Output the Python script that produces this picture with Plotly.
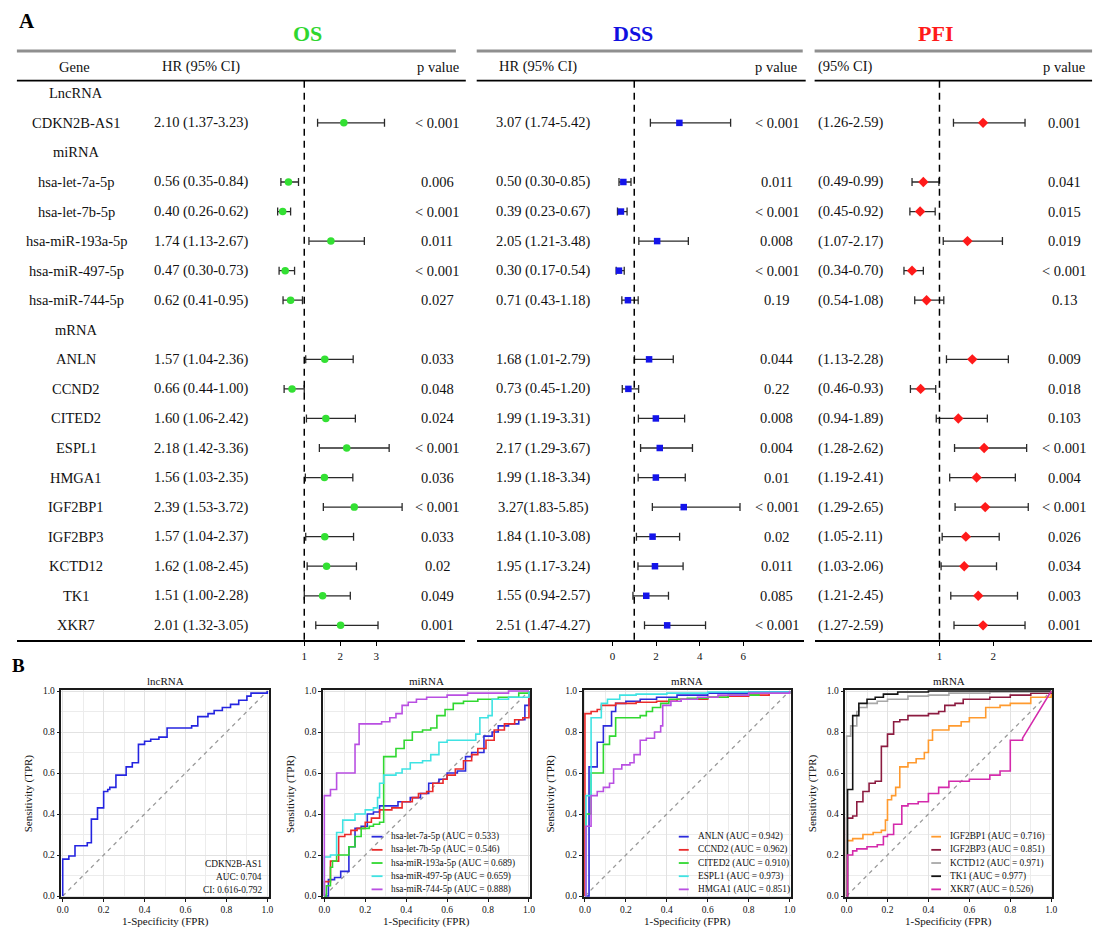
import plotly.graph_objects as go

W, H = 1106, 934
SERIF = "Liberation Serif, Times New Roman, serif"
INK = "#111111"

# ---------------- Forest plot data (panel A) ----------------
row_labels = ["LncRNA", "CDKN2B-AS1", "miRNA", "hsa-let-7a-5p", "hsa-let-7b-5p",
              "hsa-miR-193a-5p", "hsa-miR-497-5p", "hsa-miR-744-5p", "mRNA",
              "ANLN", "CCND2", "CITED2", "ESPL1", "HMGA1", "IGF2BP1", "IGF2BP3",
              "KCTD12", "TK1", "XKR7"]
genes = ["CDKN2B-AS1", "hsa-let-7a-5p", "hsa-let-7b-5p", "hsa-miR-193a-5p",
         "hsa-miR-497-5p", "hsa-miR-744-5p", "ANLN", "CCND2", "CITED2", "ESPL1",
         "HMGA1", "IGF2BP1", "IGF2BP3", "KCTD12", "TK1", "XKR7"]

os_hr = [2.10, 0.56, 0.40, 1.74, 0.47, 0.62, 1.57, 0.66, 1.60, 2.18, 1.56, 2.39, 1.57, 1.62, 1.51, 2.01]
os_lo = [1.37, 0.35, 0.26, 1.13, 0.30, 0.41, 1.04, 0.44, 1.06, 1.42, 1.03, 1.53, 1.04, 1.08, 1.00, 1.32]
os_hi = [3.23, 0.84, 0.62, 2.67, 0.73, 0.95, 2.36, 1.00, 2.42, 3.36, 2.35, 3.72, 2.37, 2.45, 2.28, 3.05]
os_p = ["< 0.001", "0.006", "< 0.001", "0.011", "< 0.001", "0.027", "0.033", "0.048",
        "0.024", "< 0.001", "0.036", "< 0.001", "0.033", "0.02", "0.049", "0.001"]

dss_hr = [3.07, 0.50, 0.39, 2.05, 0.30, 0.71, 1.68, 0.73, 1.99, 2.17, 1.99, 3.27, 1.84, 1.95, 1.55, 2.51]
dss_lo = [1.74, 0.30, 0.23, 1.21, 0.17, 0.43, 1.01, 0.45, 1.19, 1.29, 1.18, 1.83, 1.10, 1.17, 0.94, 1.47]
dss_hi = [5.42, 0.85, 0.67, 3.48, 0.54, 1.18, 2.79, 1.20, 3.31, 3.67, 3.34, 5.85, 3.08, 3.24, 2.57, 4.27]
dss_p = ["< 0.001", "0.011", "< 0.001", "0.008", "< 0.001", "0.19", "0.044", "0.22",
         "0.008", "0.004", "0.01", "< 0.001", "0.02", "0.011", "0.085", "< 0.001"]
dss_nospace = ["IGF2BP1"]

pfi_hr = [1.81, 0.70, 0.64, 1.52, 0.49, 0.76, 1.61, 0.65, 1.35, 1.83, 1.69, 1.85, 1.49, 1.46, 1.72, 1.81]
pfi_lo = [1.26, 0.49, 0.45, 1.07, 0.34, 0.54, 1.13, 0.46, 0.94, 1.28, 1.19, 1.29, 1.05, 1.03, 1.21, 1.27]
pfi_hi = [2.59, 0.99, 0.92, 2.17, 0.70, 1.08, 2.28, 0.93, 1.89, 2.62, 2.41, 2.65, 2.11, 2.06, 2.45, 2.59]
pfi_p = ["0.001", "0.041", "0.015", "0.019", "< 0.001", "0.13", "0.009", "0.018",
         "0.103", "< 0.001", "0.004", "< 0.001", "0.026", "0.034", "0.003", "0.001"]

os_ticks = [1, 2, 3]
dss_ticks = [0, 2, 4, 6]
pfi_ticks = [1, 2]

# ---------------- ROC data (panel B) ----------------
lnc_name = "CDKN2B-AS1"
lnc_auc = 0.704
lnc_ci = (0.616, 0.792)
fpr_cdkn = [0, 0, 0.03, 0.06, 0.12, 0.14, 0.17, 0.20, 0.22, 0.23, 0.26, 0.31, 0.34, 0.37, 0.40, 0.43,
            0.47, 0.51, 0.63, 0.66, 0.71, 0.74, 0.78, 0.82, 0.86, 0.90, 0.92, 1.0]
tpr_cdkn = [0, 0.18, 0.195, 0.245, 0.26, 0.375, 0.43, 0.51, 0.52, 0.53, 0.59, 0.63, 0.65, 0.74, 0.755,
            0.765, 0.775, 0.82, 0.83, 0.875, 0.89, 0.905, 0.92, 0.935, 0.955, 0.975, 0.99, 1.0]

mir_names = ["hsa-let-7a-5p", "hsa-let-7b-5p", "hsa-miR-193a-5p", "hsa-miR-497-5p", "hsa-miR-744-5p"]
mir_auc = [0.533, 0.546, 0.689, 0.659, 0.888]
fpr_let7a = [0, 0.02, 0.05, 0.08, 0.12, 0.15, 0.18, 0.21, 0.24, 0.27, 0.32, 0.36, 0.42, 0.47, 0.51,
             0.56, 0.60, 0.65, 0.69, 0.72, 0.78, 0.82, 0.85, 0.90, 0.95, 0.98, 1.0]
tpr_let7a = [0, 0.08, 0.09, 0.12, 0.24, 0.33, 0.34, 0.40, 0.41, 0.44, 0.44, 0.46, 0.48, 0.50, 0.55,
             0.57, 0.60, 0.61, 0.68, 0.70, 0.78, 0.80, 0.83, 0.84, 0.86, 0.93, 1.0]
fpr_let7b = [0, 0, 0.03, 0.07, 0.10, 0.13, 0.16, 0.20, 0.23, 0.27, 0.33, 0.38, 0.43, 0.46, 0.50, 0.53,
             0.58, 0.60, 0.64, 0.68, 0.72, 0.75, 0.79, 0.83, 0.88, 0.93, 0.97, 1.0, 1.0]
tpr_let7b = [0, 0.07, 0.17, 0.29, 0.30, 0.32, 0.33, 0.36, 0.38, 0.42, 0.43, 0.46, 0.48, 0.50, 0.51, 0.55,
             0.57, 0.59, 0.62, 0.66, 0.69, 0.72, 0.76, 0.81, 0.84, 0.86, 0.87, 0.89, 1.0]
fpr_m193a = [0, 0.01, 0.03, 0.04, 0.06, 0.12, 0.15, 0.18, 0.22, 0.24, 0.27, 0.29, 0.35, 0.39, 0.43,
             0.48, 0.52, 0.55, 0.59, 0.63, 0.68, 0.75, 0.85, 0.95, 1.0]
tpr_m193a = [0, 0.05, 0.14, 0.17, 0.20, 0.24, 0.29, 0.33, 0.34, 0.35, 0.36, 0.68, 0.72, 0.76, 0.80,
             0.81, 0.82, 0.88, 0.91, 0.94, 0.95, 0.96, 0.97, 0.99, 1.0]
fpr_m497 = [0, 0, 0.03, 0.06, 0.09, 0.15, 0.20, 0.24, 0.26, 0.27, 0.29, 0.35, 0.38, 0.42, 0.48, 0.52,
            0.56, 0.60, 0.68, 0.74, 0.76, 0.80, 0.82, 0.90, 1.0, 1.0]
tpr_m497 = [0, 0.19, 0.20, 0.31, 0.37, 0.40, 0.42, 0.43, 0.48, 0.55, 0.59, 0.60, 0.62, 0.65, 0.66, 0.69,
            0.75, 0.76, 0.76, 0.79, 0.87, 0.88, 0.96, 0.97, 0.99, 1.0]
fpr_m744 = [0, 0, 0.03, 0.06, 0.15, 0.17, 0.28, 0.32, 0.35, 0.38, 0.41, 0.45, 0.50, 0.60, 0.70, 0.90, 1.0]
tpr_m744 = [0, 0.49, 0.52, 0.60, 0.74, 0.84, 0.85, 0.87, 0.89, 0.93, 0.945, 0.96, 0.97, 0.98, 0.99, 1.0, 1.0]

mrna1_names = ["ANLN", "CCND2", "CITED2", "ESPL1", "HMGA1"]
mrna1_auc = [0.942, 0.962, 0.910, 0.973, 0.851]
fpr_anln = [0, 0.02, 0.06, 0.09, 0.13, 0.15, 0.20, 0.27, 0.35, 0.45, 0.60, 0.80, 1.0]
tpr_anln = [0, 0.63, 0.75, 0.83, 0.90, 0.94, 0.95, 0.96, 0.97, 0.98, 0.99, 0.995, 1.0]
fpr_ccnd2 = [0, 0, 0.03, 0.06, 0.08, 0.15, 0.25, 0.35, 0.45, 0.60, 0.70, 0.80, 0.90, 1.0]
tpr_ccnd2 = [0, 0.89, 0.90, 0.91, 0.93, 0.94, 0.945, 0.95, 0.96, 0.97, 0.975, 0.98, 0.99, 1.0]
fpr_cited2 = [0, 0.005, 0.03, 0.09, 0.12, 0.15, 0.27, 0.30, 0.33, 0.37, 0.41, 0.50, 0.60, 0.70, 0.85, 1.0]
tpr_cited2 = [0, 0.40, 0.60, 0.74, 0.78, 0.87, 0.88, 0.90, 0.92, 0.94, 0.96, 0.965, 0.97, 0.98, 0.99, 1.0]
fpr_espl1 = [0, 0.005, 0.03, 0.08, 0.11, 0.17, 0.25, 0.40, 0.60, 1.0]
tpr_espl1 = [0, 0.49, 0.87, 0.94, 0.96, 0.98, 0.985, 0.99, 0.995, 1.0]
fpr_hmga1 = [0, 0.005, 0.03, 0.06, 0.09, 0.12, 0.14, 0.18, 0.22, 0.24, 0.27, 0.30, 0.34, 0.37, 0.38,
             0.42, 0.47, 0.55, 0.65, 0.80, 1.0]
tpr_hmga1 = [0, 0.34, 0.49, 0.51, 0.53, 0.55, 0.62, 0.64, 0.65, 0.69, 0.76, 0.77, 0.80, 0.83, 0.93,
             0.95, 0.96, 0.97, 0.98, 0.99, 1.0]

mrna2_names = ["IGF2BP1", "IGF2BP3", "KCTD12", "TK1", "XKR7"]
mrna2_auc = [0.716, 0.851, 0.971, 0.977, 0.526]
fpr_igf2bp1 = [0, 0, 0.03, 0.08, 0.13, 0.17, 0.19, 0.20, 0.22, 0.24, 0.26, 0.30, 0.34, 0.38, 0.40,
               0.42, 0.50, 0.56, 0.60, 0.68, 0.75, 0.80, 0.90, 1.0]
tpr_igf2bp1 = [0, 0.27, 0.28, 0.30, 0.31, 0.32, 0.37, 0.47, 0.49, 0.53, 0.63, 0.65, 0.67, 0.70, 0.76,
               0.81, 0.83, 0.85, 0.87, 0.92, 0.93, 0.94, 0.97, 1.0]
fpr_igf2bp3 = [0, 0, 0.03, 0.05, 0.08, 0.11, 0.14, 0.17, 0.20, 0.23, 0.26, 0.30, 0.40, 0.45, 0.48,
               0.53, 0.57, 0.70, 0.80, 0.90, 1.0]
tpr_igf2bp3 = [0, 0.38, 0.39, 0.46, 0.51, 0.55, 0.56, 0.73, 0.79, 0.85, 0.86, 0.88, 0.89, 0.90, 0.93,
               0.94, 0.96, 0.97, 0.98, 0.99, 1.0]
fpr_kctd12 = [0, 0, 0.02, 0.05, 0.06, 0.10, 0.15, 0.20, 0.30, 0.40, 0.50, 0.70, 1.0]
tpr_kctd12 = [0, 0.78, 0.83, 0.90, 0.92, 0.94, 0.95, 0.96, 0.975, 0.98, 0.99, 0.995, 1.0]
fpr_tk1 = [0, 0.005, 0.03, 0.06, 0.10, 0.14, 0.18, 0.25, 0.40, 1.0]
tpr_tk1 = [0, 0.52, 0.88, 0.94, 0.96, 0.97, 0.985, 0.995, 1.0, 1.0]
fpr_xkr7 = [0, 0.005, 0.03, 0.05, 0.10, 0.15, 0.18, 0.20, 0.23, 0.27, 0.30, 0.35, 0.40, 0.45, 0.50,
            0.60, 0.70, 0.75, 0.80, 0.86]
tpr_xkr7 = [0, 0.20, 0.22, 0.23, 0.24, 0.25, 0.29, 0.30, 0.35, 0.44, 0.45, 0.46, 0.50, 0.53, 0.56,
            0.57, 0.59, 0.61, 0.76, 0.77]
xkr7_end = (1.0, 1.0)


def stairs(f, t, tail=None):
    xs, ys = [f[0]], [t[0]]
    for i in range(1, len(f)):
        xs += [f[i], f[i]]
        ys += [t[i - 1], t[i]]
    if tail is not None:
        xs.append(tail[0])
        ys.append(tail[1])
    return xs, ys


fig = go.Figure()

# ---------------- Panel A ----------------
def px_x(p):
    return p / W


def px_y(p):
    return 1 - p / H


row_idx = {lab: i for i, lab in enumerate(row_labels)}
gy = [row_idx[g] for g in genes]

ROW_TOP_PX, ROW_STEP = 91.0, 29.78
TOP_PX, BOT_PX = 78.3, 641.5
y_range = [(BOT_PX - ROW_TOP_PX) / ROW_STEP, (TOP_PX - ROW_TOP_PX) / ROW_STEP]

sections = [
    dict(hr=os_hr, lo=os_lo, hi=os_hi, ax="x", color="#33e033", symbol="circle", size=7.5,
         left=12, right=464, ref_px=302, ref_val=1, ppu=36.3, ticks=os_ticks),
    dict(hr=dss_hr, lo=dss_lo, hi=dss_hi, ax="x2", color="#1414ea", symbol="square", size=6.5,
         left=476, right=806, ref_px=613, ref_val=0, ppu=22.0, ticks=dss_ticks),
    dict(hr=pfi_hr, lo=pfi_lo, hi=pfi_hi, ax="x3", color="#ff1a1a", symbol="diamond", size=8,
         left=817, right=1097, ref_px=943, ref_val=1, ppu=54.3, ticks=pfi_ticks),
]

axis_common = dict(showline=True, linecolor="black", linewidth=1.5, ticks="outside", ticklen=5,
                   tickwidth=1.3, tickcolor="black", showgrid=False, zeroline=False,
                   tickfont=dict(family=SERIF, size=11, color=INK), anchor="y")

shapes = []
annotations = []

for k, s in enumerate(sections):
    fig.add_trace(go.Scatter(
        x=s["hr"], y=gy, mode="markers", xaxis=s["ax"], yaxis="y", showlegend=False,
        marker=dict(color=s["color"], symbol=s["symbol"], size=s["size"], line=dict(width=0)),
        error_x=dict(type="data", symmetric=False,
                     array=[h - m for h, m in zip(s["hi"], s["hr"])],
                     arrayminus=[m - l for m, l in zip(s["hr"], s["lo"])],
                     color="#2a2a2a", thickness=1.3, width=4),
        cliponaxis=False, hoverinfo="skip"))
    rng = [s["ref_val"] + (s["left"] - s["ref_px"]) / s["ppu"],
           s["ref_val"] + (s["right"] - s["ref_px"]) / s["ppu"]]
    key = "xaxis" if k == 0 else f"xaxis{k + 1}"
    fig.update_layout(**{key: dict(axis_common, domain=[px_x(s["left"]), px_x(s["right"])],
                                   range=rng, tickvals=s["ticks"])})
    # reference dashed line at HR = 1
    shapes.append(dict(type="line", xref=s["ax"], yref="y domain", x0=1, x1=1, y0=0, y1=1,
                       line=dict(color="black", width=1.5, dash="7px,5px")))
    # header rules
    gray_right = {0: 455, 1: 805, 2: 1097}[k]
    black_right = {0: 465, 1: 808, 2: 1097}[k]
    shapes.append(dict(type="line", xref="paper", yref="paper", x0=px_x(s["left"]),
                       x1=px_x(gray_right), y0=px_y(48.3), y1=px_y(48.3),
                       line=dict(color="#8f8f8f", width=3)))
    shapes.append(dict(type="line", xref="paper", yref="paper", x0=px_x(s["left"]),
                       x1=px_x(black_right), y0=px_y(TOP_PX), y1=px_y(TOP_PX),
                       line=dict(color="black", width=1.8)))

fig.update_layout(yaxis=dict(domain=[px_y(BOT_PX), px_y(TOP_PX)], range=y_range, visible=False,
                             anchor="x"))

TF = dict(family=SERIF, size=14.5, color=INK)


def ann(x, y, text, anchor="center", yref="paper", font=TF, **kw):
    d = dict(x=x, y=y, xref="paper", yref=yref, text=text, showarrow=False, xanchor=anchor,
             yanchor="middle", font=font)
    d.update(kw)
    annotations.append(d)


# titles
ann(px_x(22), px_y(18), "<b>A</b>", font=dict(family=SERIF, size=21, color="black"))
ann(px_x(14), px_y(667), "<b>B</b>", font=dict(family=SERIF, size=19, color="black"))
ann(px_x(305), px_y(31), "<b>OS</b>", font=dict(family=SERIF, size=22, color="#2fd62f"))
ann(px_x(634), px_y(31), "<b>DSS</b>", font=dict(family=SERIF, size=22, color="#1010e0"))
ann(px_x(939), px_y(31), "<b>PFI</b>", font=dict(family=SERIF, size=22, color="#ff1a1a"))

# header row
HY = px_y(64)
ann(px_x(70), HY, "Gene")
ann(px_x(198), HY, "HR (95% CI)")
ann(px_x(437), HY, "p value")
ann(px_x(538), HY, "HR (95% CI)")
ann(px_x(778), HY, "p value")
ann(px_x(818), HY, "(95% CI)", anchor="left")
ann(px_x(1069), HY, "p value")

# row labels
for lab in row_labels:
    ann(px_x(72), row_idx[lab], lab, yref="y")

for i, g in enumerate(genes):
    r = row_idx[g]
    ann(px_x(198), r, f"{os_hr[i]:.2f} ({os_lo[i]:.2f}-{os_hi[i]:.2f})", yref="y")
    ann(px_x(436), r, os_p[i], yref="y")
    sep = "" if g in dss_nospace else " "
    ann(px_x(543), r, f"{dss_hr[i]:.2f}{sep}({dss_lo[i]:.2f}-{dss_hi[i]:.2f})", yref="y")
    ann(px_x(779), r, dss_p[i], yref="y")
    ann(px_x(818), r, f"({pfi_lo[i]:.2f}-{pfi_hi[i]:.2f})", yref="y", anchor="left")
    ann(px_x(1069), r, pfi_p[i], yref="y")

# ---------------- Panel B ----------------
roc_left_px = [57, 321, 584, 848]
ROC_W = 209
ROC_TOP, ROC_BOT = 692, 901

panels = [
    dict(title="lncRNA", names=[lnc_name], auc=[lnc_auc], colors=["#2424e0"],
         curves=[stairs(fpr_cdkn, tpr_cdkn)], legend=None),
    dict(title="miRNA", names=mir_names, auc=mir_auc,
         colors=["#2b2bdb", "#ea2a2a", "#30d830", "#3fe3e3", "#b94fe2"],
         curves=[stairs(fpr_let7a, tpr_let7a), stairs(fpr_let7b, tpr_let7b),
                 stairs(fpr_m193a, tpr_m193a), stairs(fpr_m497, tpr_m497),
                 stairs(fpr_m744, tpr_m744)],
         legend=(0.234, 0.287, 0.316)),
    dict(title="mRNA", names=mrna1_names, auc=mrna1_auc,
         colors=["#2b2bdb", "#ea2a2a", "#30d830", "#3fe3e3", "#b94fe2"],
         curves=[stairs(fpr_anln, tpr_anln), stairs(fpr_ccnd2, tpr_ccnd2),
                 stairs(fpr_cited2, tpr_cited2), stairs(fpr_espl1, tpr_espl1),
                 stairs(fpr_hmga1, tpr_hmga1)],
         legend=(0.459, 0.507, 0.541)),
    dict(title="mRNA", names=mrna2_names, auc=mrna2_auc,
         colors=["#ff9a2e", "#8c1b40", "#a8a8a8", "#141414", "#d42aab"],
         curves=[stairs(fpr_igf2bp1, tpr_igf2bp1), stairs(fpr_igf2bp3, tpr_igf2bp3),
                 stairs(fpr_kctd12, tpr_kctd12), stairs(fpr_tk1, tpr_tk1),
                 stairs(fpr_xkr7, tpr_xkr7, tail=xkr7_end)],
         legend=(0.415, 0.462, 0.497)),
]

roc_ticks = [0, 0.2, 0.4, 0.6, 0.8, 1.0]
roc_axis = dict(range=[-0.006, 1.006], tickvals=roc_ticks, tickformat=".1f", showline=True,
                mirror=True, linecolor="#1a1a1a", linewidth=1.6, ticks="outside", ticklen=3,
                tickwidth=1, tickcolor="#1a1a1a", showgrid=True, gridcolor="#e2e2e2",
                gridwidth=1.3, zeroline=False,
                minor=dict(dtick=0.1, tick0=0, showgrid=True, gridcolor="#ececec", gridwidth=1),
                tickfont=dict(family=SERIF, size=9.5, color=INK))

LEG_Y0, LEG_STEP = 0.292, 0.0635
LF = dict(family=SERIF, size=9.3, color=INK)

for p, pan in enumerate(panels):
    xn, yn = 4 + p, 2 + p
    xa, ya = f"x{xn}", f"y{yn}"
    L = roc_left_px[p]
    fig.update_layout(**{
        f"xaxis{xn}": dict(roc_axis, domain=[px_x(L), px_x(L + ROC_W)], anchor=ya),
        f"yaxis{yn}": dict(roc_axis, domain=[px_y(ROC_BOT), px_y(ROC_TOP)], anchor=xa),
    })
    fig.add_trace(go.Scatter(x=[0, 1], y=[0, 1], mode="lines", xaxis=xa, yaxis=ya,
                             line=dict(color="#9a9a9a", width=1.3, dash="4px,4px"),
                             showlegend=False, hoverinfo="skip"))
    for (xs, ys), c, nm in zip(pan["curves"], pan["colors"], pan["names"]):
        fig.add_trace(go.Scatter(x=xs, y=ys, mode="lines", xaxis=xa, yaxis=ya, name=nm,
                                 line=dict(color=c, width=1.6), showlegend=False))
    cx = px_x(L + ROC_W / 2)
    ann(cx, px_y(683), pan["title"], font=dict(family=SERIF, size=11, color=INK))
    ann(cx, px_y(925), "1-Specificity (FPR)", font=dict(family=SERIF, size=11, color=INK))
    ann(px_x(L - 33), px_y((ROC_TOP + ROC_BOT) / 2), "Sensitivity (TPR)", textangle=-90,
        font=dict(family=SERIF, size=11, color=INK))
    if pan["legend"] is not None:
        l0, l1, tx = pan["legend"]
        for i, (nm, a, c) in enumerate(zip(pan["names"], pan["auc"], pan["colors"])):
            yy = LEG_Y0 - i * LEG_STEP
            shapes.append(dict(type="line", xref=f"{xa} domain", yref=f"{ya} domain",
                               x0=l0, x1=l1, y0=yy, y1=yy, line=dict(color=c, width=1.8)))
            annotations.append(dict(x=tx, y=yy, xref=f"{xa} domain", yref=f"{ya} domain",
                                    text=f"{nm} (AUC = {a:.3f})", showarrow=False,
                                    xanchor="left", yanchor="middle", font=LF))
    else:
        lines = [pan["names"][0], f"AUC: {pan['auc'][0]:.3f}",
                 f"CI: {lnc_ci[0]:.3f}-{lnc_ci[1]:.3f}"]
        for i, t in enumerate(lines):
            annotations.append(dict(x=0.98, y=0.158 - i * 0.062, xref=f"{xa} domain",
                                    yref=f"{ya} domain", text=t, showarrow=False,
                                    xanchor="right", yanchor="middle", font=LF))

fig.update_layout(width=W, height=H, margin=dict(l=0, r=0, t=0, b=0),
                  paper_bgcolor="white", plot_bgcolor="white",
                  shapes=shapes, annotations=annotations, showlegend=False,
                  font=dict(family=SERIF, color=INK))

fig.write_html("out.html", config={"displayModeBar": False},
               post_script="document.body.style.margin='0px';"
                           "document.body.style.overflow='hidden';")
